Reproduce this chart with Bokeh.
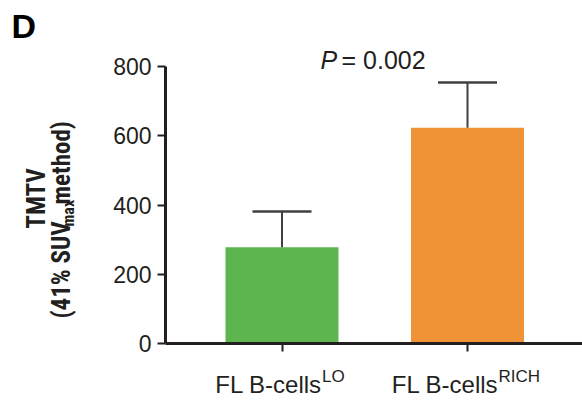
import math
from bokeh.plotting import figure
from bokeh.models import Range1d, FixedTicker, Label, ColumnDataSource
from bokeh.embed import file_html
from bokeh.resources import INLINE

# ---- data ----
categories = ["FL B-cells", "FL B-cells"]
superscripts = ["LO", "RICH"]
means = [278, 623]
errors = [103, 131]
colors = ["#5cb54e", "#f09236"]
y_ticks = [0, 200, 400, 600, 800]
p_text = "0.002"

# ---- layout helpers (pixel geometry of the page) ----
W, H = 582, 402
AXIS_X_PX, AXIS_Y_PX = 165, 343
PX_PER_CAT = 185.5
FIRST_CAT_PX = 281.5
Y_PER_PX = 800 / 277.0
K = 0.36  # baseline correction (fraction of font size)

def X(px):
    return 1 + (px - FIRST_CAT_PX) / PX_PER_CAT

def Y(py):
    return (AXIS_Y_PX - py) * Y_PER_PX

FONT = "Liberation Sans"
NARROW = "Liberation Sans Narrow, Roboto Condensed, DejaVu Sans Condensed, Liberation Sans"
INK = "#231f20"

p = figure(width=W, height=H, output_backend="svg", toolbar_location=None,
           x_range=Range1d(X(0), X(W)), y_range=Range1d(Y(H), Y(0)),
           min_border_left=0, min_border_right=0, min_border_top=0,
           min_border_bottom=0, title=None)
p.outline_line_color = None
p.grid.visible = False

xs = [i + 1 for i in range(len(means))]
tops = [m + e for m, e in zip(means, errors)]
src = ColumnDataSource(dict(x=xs, top=means, color=colors, up=tops))
p.vbar(x="x", top="top", bottom=0, width=0.609, fill_color="color", line_color=None, source=src)
p.segment(x0="x", y0="top", x1="x", y1="up", line_color="#404040", line_width=2, source=src)
cap = 0.159
src2 = ColumnDataSource(dict(xa=[x - cap for x in xs], xb=[x + cap for x in xs], up=tops))
p.segment(x0="xa", y0="up", x1="xb", y1="up", line_color="#404040", line_width=2.5, source=src2)

ya = p.yaxis[0]
ya.fixed_location = X(AXIS_X_PX)
ya.ticker = FixedTicker(ticks=y_ticks)
ya.bounds = (0, 800)
ya.axis_line_width = 3
ya.axis_line_color = INK
ya.major_tick_line_width = 2
ya.major_tick_line_color = INK
ya.major_tick_out = 8
ya.major_tick_in = 0
ya.minor_tick_line_color = None
ya.major_label_text_font = FONT
ya.major_label_text_font_size = "23px"
ya.major_label_text_color = INK
ya.major_label_standoff = 6

xa = p.xaxis[0]
xa.fixed_location = 0
xa.ticker = FixedTicker(ticks=xs)
xa.bounds = (X(AXIS_X_PX), X(W))
xa.axis_line_width = 3
xa.axis_line_color = INK
xa.major_tick_line_width = 2
xa.major_tick_line_color = INK
xa.major_tick_out = 8
xa.major_tick_in = 0
xa.minor_tick_line_color = None
xa.major_label_overrides = {1: " ", 2: " "}


def htext(text, x, base_py, fs, font=FONT, style="normal", align="left", x_offset=0, color=INK):
    return Label(x=x, y=Y(base_py - K * fs), x_offset=x_offset, text=text, text_align=align,
                 text_baseline="alphabetic", text_font=font, text_font_style=style,
                 text_font_size=f"{fs}px", text_color=color)


def vtext(text, base_px, start_py, fs, font=NARROW, style="bold", align="left"):
    return Label(x=X(base_px - K * fs), y=Y(start_py), text=text, angle=math.pi / 2,
                 text_align=align, text_baseline="alphabetic", text_font=font,
                 text_font_style=style, text_font_size=f"{fs}px", text_color=INK)


# category labels with superscripts
offs_main = [40, 31]
for x, cat, sup, om in zip(xs, categories, superscripts, offs_main):
    p.add_layout(htext(cat, x, 393, 24, align="right", x_offset=om))
    p.add_layout(htext(sup, x, 382, 17, align="left", x_offset=om))

# P value
p.add_layout(htext("P", X(320), 68, 25, style="italic"))
p.add_layout(htext("= " + p_text, X(341), 68, 25))

# panel letter
p.add_layout(htext("D", X(11), 38, 34, style="bold", color="black"))

# y label (rotated, with subscript)
p.add_layout(vtext("TMTV", 45, 198, 25, align="center"))
p.add_layout(vtext("(41% SUV", 70, 318, 25))
p.add_layout(vtext("max", 74, 226, 16))
p.add_layout(vtext(" method)", 70, 204, 25))

open("out.html", "w").write(file_html(p, INLINE))
